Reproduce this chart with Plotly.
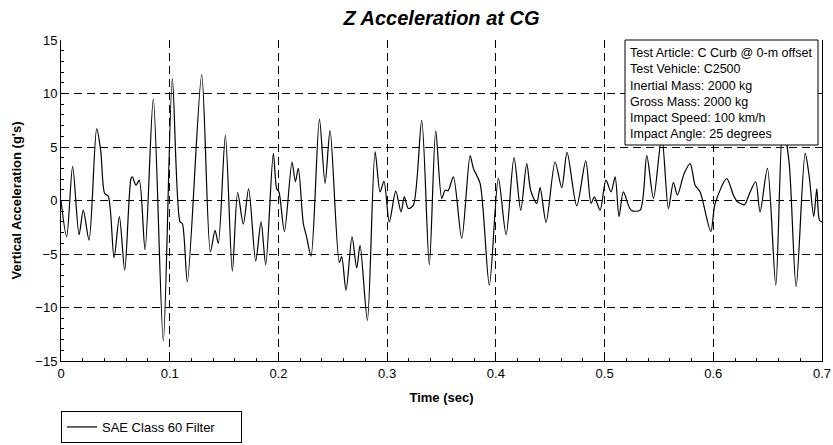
import plotly.graph_objects as go

# Time (s) and vertical acceleration (g's)
time_sec = [
    0.0, 0.0052, 0.0107, 0.0166, 0.0205, 0.0258, 0.0328, 0.0365, 0.0402, 0.0435,
    0.0488, 0.0537, 0.0586, 0.0644, 0.0656, 0.069, 0.072, 0.0773, 0.0849, 0.0941,
    0.1024, 0.1095, 0.1116, 0.1162, 0.1294, 0.1374, 0.1417, 0.1447, 0.1512, 0.1576,
    0.1625, 0.1677, 0.1726, 0.1791, 0.184, 0.1883, 0.1953, 0.1984, 0.2005, 0.2055,
    0.2125, 0.2156, 0.2183, 0.2229, 0.2259, 0.2300, 0.2377, 0.2429, 0.2475, 0.256,
    0.2582, 0.2622, 0.2677, 0.272, 0.2751, 0.2818, 0.2889, 0.2935, 0.2971, 0.302,
    0.3079, 0.3128, 0.3158, 0.3195, 0.3241, 0.3318, 0.3388, 0.3447, 0.3502, 0.3533,
    0.3560, 0.3609, 0.3686, 0.3763, 0.3793, 0.3855, 0.394, 0.4023, 0.4094, 0.4167,
    0.4229, 0.4284, 0.432, 0.4376, 0.4407, 0.4462, 0.4545, 0.4606, 0.4655, 0.4744,
    0.4827, 0.4876, 0.4906, 0.4959, 0.5012, 0.506, 0.5097, 0.5133, 0.5173, 0.5244,
    0.5327, 0.5388, 0.5450, 0.5526, 0.5587, 0.5633, 0.567, 0.5731, 0.5787, 0.5833,
    0.5879, 0.5977, 0.6017, 0.6124, 0.6185, 0.6222, 0.6247, 0.6287, 0.6339, 0.639,
    0.643, 0.6498, 0.6575, 0.6640, 0.6697, 0.6762, 0.6845, 0.6881, 0.6924, 0.6952,
    0.6977, 0.7,
]
accel_g = [
    0.0, -3.4, 3.2, -3.2, -0.9, -3.7, 6.7, 4.7, 0.65, 0.4,
    -5.35, -1.5, -6.5, 2.05, 2.2, 1.43, 1.9, -4.6, 9.5, -13.1,
    11.4, -2.0, -2.15, -7.6, 11.75, -4.8, -2.8, -4.0, 6.1, -6.6,
    0.75, -2.2, 1.1, -5.65, -2.0, -6.0, 4.4, 1.1, 0.8, -2.9,
    3.6, 1.75, 3.0, -2.15, -3.4, -5.2, 7.6, 1.6, 6.55, -5.8,
    -5.25, -8.4, -3.4, -6.3, -4.2, -11.2, 4.55, 0.8, 1.8, -2.0,
    0.87, -1.06, 0.34, -0.75, -0.43, 7.5, -6.0, 6.5, 0.2, 0.96,
    0.9, 2.2, -3.55, 4.2, 3.0, 1.6, -7.9, 2.1, -3.2, 4.0,
    -0.9, 3.45, 0.96, -0.28, 1.2, -2.05, 3.6, 1.2, 4.5, -0.5,
    3.7, -0.28, 0.34, -0.9, 1.9, 0.8, 2.2, -1.5, 0.8, -0.9,
    -0.9, 4.2, 0.2, 6.0, -0.75, 1.7, 0.5, 2.5, 3.45, 1.43,
    0.8, -2.9, -0.28, 2.05, 0.5, -0.12, -0.25, -0.4, 0.8, 1.75,
    -1.06, 3.0, -7.9, 7.0, 3.6, -8.05, 4.4, 2.36, -1.5, 1.1,
    -1.85, -2.0,
]

info_lines = [
    "Test Article: C Curb @ 0-m offset",
    "Test Vehicle: C2500",
    "Inertial Mass: 2000 kg",
    "Gross Mass: 2000 kg",
    "Impact Speed: 100 km/h",
    "Impact Angle: 25 degrees",
]

FONT = "Liberation Sans, Arial, sans-serif"

fig = go.Figure()
fig.add_trace(go.Scatter(
    x=time_sec, y=accel_g, mode="lines", name="SAE Class 60 Filter",
    line=dict(color="black", width=1.2, shape="spline", smoothing=0.8),
))

# Info box
L, R, T, B = 61, 822, 40, 361
W, H = R - L, B - T
fig.add_shape(type="rect", xref="paper", yref="paper",
              x0=(625 - L) / W, x1=(818 - L) / W, y0=(B - 145) / H, y1=1.0,
              line=dict(color="black", width=1), fillcolor="white", layer="above")
fig.add_annotation(text="<br>".join(info_lines), xref="paper", yref="paper",
                   x=(628 - L) / W, y=(B - 93.5) / H, xanchor="left", yanchor="middle",
                   align="left", showarrow=False,
                   font=dict(family=FONT, size=12.5, color="black"))

grid = dict(showgrid=True, gridcolor="black", gridwidth=1, griddash="8px,5px")

fig.update_layout(
    width=833, height=445,
    margin=dict(l=L, r=833 - R, t=T, b=445 - B, autoexpand=False),
    paper_bgcolor="white", plot_bgcolor="white",
    font=dict(family=FONT, size=13, color="black"),
    title=dict(text="Z Acceleration at CG", x=0.5, xref="paper", y=1 - 18 / 445,
               yref="container", yanchor="middle", xanchor="center",
               font=dict(family=FONT, size=20, weight="bold", style="italic", color="black")),
    showlegend=True,
    legend=dict(x=0, y=(B - 443) / H, xanchor="left", yanchor="bottom",
                orientation="h", entrywidth=134, entrywidthmode="pixels",
                bordercolor="black", borderwidth=1, bgcolor="white",
                font=dict(family=FONT, size=13, color="black")),
    xaxis=dict(range=[0, 0.7], dtick=0.1, tick0=0, ticks="inside", ticklen=6,
               tickcolor="black", showline=True, linecolor="black", linewidth=1,
               mirror=False, zeroline=False, automargin=False,
               minor=dict(dtick=0.02, ticks="inside", ticklen=3, tickcolor="black", showgrid=False),
               title=dict(text="<b>Time (sec)</b>", standoff=13,
                          font=dict(family=FONT, size=13, color="black")),
               tickfont=dict(family=FONT, size=13, color="black"), **grid),
    yaxis=dict(range=[-15, 15], dtick=5, tick0=0, ticks="inside", ticklen=6,
               tickcolor="black", showline=True, linecolor="black", linewidth=1,
               mirror=True, zeroline=False, automargin=False,
               minor=dict(dtick=1, ticks="inside", ticklen=3, tickcolor="black", showgrid=False),
               title=dict(text="<b>Vertical Acceleration (g's)</b>", standoff=10,
                          font=dict(family=FONT, size=13, color="black")),
               tickfont=dict(family=FONT, size=13, color="black"), **grid),
)

fig.write_html("out.html", config={"displayModeBar": False},
               post_script="document.body.style.margin='0';document.body.style.overflow='hidden';")
